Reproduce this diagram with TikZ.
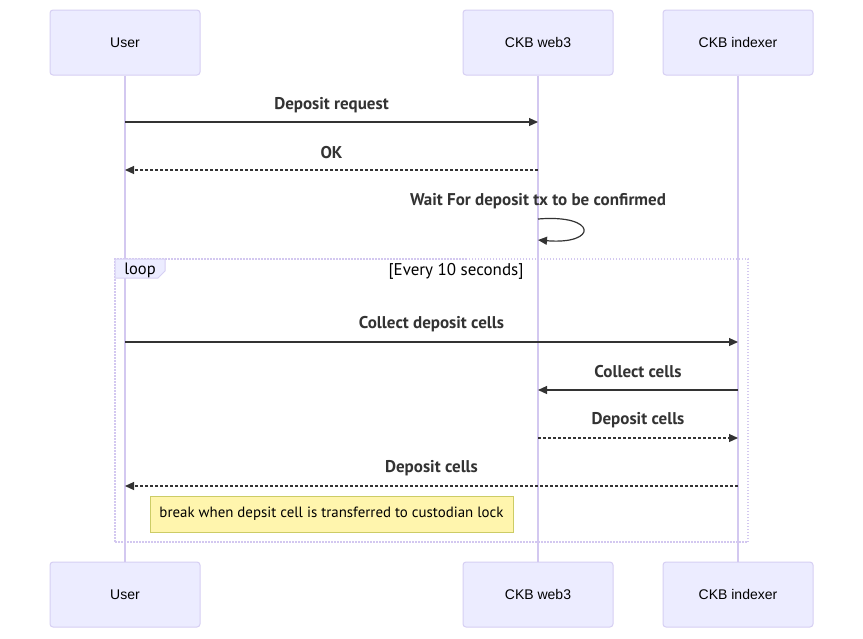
\documentclass[tikz,border=0pt]{standalone}
\usepackage{fontspec}
\setmainfont{Liberation Sans}
\newfontfamily\msgfont{PT Sans}
\usetikzlibrary{arrows.meta}
\definecolor{actfill}{HTML}{ECECFF}
\definecolor{actdraw}{HTML}{D6CFF3}
\definecolor{lifeline}{HTML}{D3C8F0}
\definecolor{txt}{HTML}{333333}
\definecolor{notefill}{HTML}{FFF5AD}
\definecolor{notedraw}{HTML}{CCCC66}
\tikzset{
  actor/.style={draw=actdraw, fill=actfill, line width=1pt, rounded corners=3pt, minimum width=150pt, minimum height=65pt, inner sep=0pt, font=\fontsize{14}{16}\selectfont, text=black},
  life/.style={draw=lifeline, line width=1.2pt},
  msg/.style={draw=txt, line width=1.2pt, -{Triangle[length=9pt,width=8pt]}},
  rmsg/.style={msg, dash pattern=on 3pt off 2pt},
  lbl/.style={font=\msgfont\bfseries\fontsize{17}{19}\selectfont, text=txt, inner sep=0pt},
  notebox/.style={draw=notedraw, fill=notefill, line width=1pt, minimum width=363pt, minimum height=36pt, inner sep=0pt, font=\msgfont\fontsize{14.9}{17}\selectfont, text=black},
  loopframe/.style={draw=lifeline, line width=1.2pt, dash pattern=on 1.5pt off 1.5pt}
}
\begin{document}
\begin{tikzpicture}[x=1pt,y=-1pt]
\useasboundingbox[fill=white] (0,0) rectangle (863,638);
% actors top
\node[actor] (u1) at (125,42.5) {User};
\node[actor] (w1) at (538,42.5) {CKB web3};
\node[actor] (i1) at (738,42.5) {CKB indexer};
% actors bottom
\node[actor] (u2) at (125,594.5) {User};
\node[actor] (w2) at (538,594.5) {CKB web3};
\node[actor] (i2) at (738,594.5) {CKB indexer};
% lifelines
\draw[life] (u1.south) -- (u2.north);
\draw[life] (w1.south) -- (w2.north);
\draw[life] (i1.south) -- (i2.north);
% message anchor coordinates
\coordinate (u122) at (125,122); \coordinate (w122) at (538,122);
\coordinate (u170) at (125,170); \coordinate (w170) at (538,170);
\coordinate (s1) at (538,219); \coordinate (s2) at (538,240);
\coordinate (u342) at (125,342); \coordinate (i342) at (738,342);
\coordinate (w390) at (538,390); \coordinate (i390) at (738,390);
\coordinate (w438) at (538,438); \coordinate (i438) at (738,438);
\coordinate (u486) at (125,486); \coordinate (i486) at (738,486);
% messages
\draw[msg] (u122) -- (w122);
\node[lbl] (m1) at (331.5,105) {Deposit request};
\draw[rmsg] (w170) -- (u170);
\node[lbl] (m2) at (331.5,153) {OK};
\node[lbl] (m3) at (538,201) {Wait For deposit tx to be confirmed};
\draw[msg] (s1) .. controls (598,214) and (598,245) .. (s2);
% loop frame
\node[loopframe, minimum width=633pt, minimum height=283pt, inner sep=0pt] (frame) at (431.5,400.5) {};
\draw[draw=actdraw, fill=actfill, line width=1pt] (115,259) -- (165,259) -- (165,271) -- (158,278) -- (115,278) -- cycle;
\node[font=\msgfont\fontsize{16.5}{18}\selectfont, text=black, inner sep=0pt] (looplbl) at (140,270) {loop};
\node[font=\msgfont\fontsize{17}{19}\selectfont, text=black, inner sep=0pt] (cond) at (456,271) {[Every 10 seconds]};
\draw[msg] (u342) -- (i342);
\node[lbl] (m4) at (431.5,324) {Collect deposit cells};
\draw[msg] (i390) -- (w390);
\node[lbl] (m5) at (638,372) {Collect cells};
\draw[rmsg] (w438) -- (i438);
\node[lbl] (m6) at (638,420) {Deposit cells};
\draw[rmsg] (i486) -- (u486);
\node[lbl] (m7) at (431.5,468) {Deposit cells};
% note
\node[notebox] (note) at (331.5,514) {break when depsit cell is transferred to custodian lock};
\end{tikzpicture}
\end{document}
